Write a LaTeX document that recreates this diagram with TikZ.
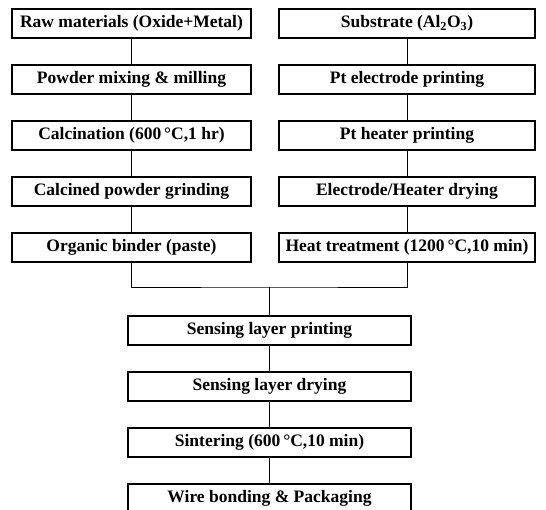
\documentclass[tikz,border=0pt]{standalone}
\usepackage{fontspec}
\setmainfont{Liberation Serif}
\usepackage{tikz}
\usetikzlibrary{positioning, calc}
\newcommand{\degC}{\,°C}
\tikzset{
  stagebox/.style={draw, line width=1.3pt, minimum height=29pt, inner sep=0pt,
    font=\bfseries\fontsize{17.5}{19}\selectfont},
  powder/.style={stagebox, minimum width=239pt},
  substr/.style={stagebox, minimum width=256pt},
  sensor/.style={stagebox, minimum width=283pt},
  link/.style={line width=0.9pt}
}

\begin{document}
\begin{tikzpicture}[x=1pt, y=1pt]
  \useasboundingbox (0,0) rectangle (546,509);

  % powder / paste route (left)
  \node[powder] (rawmat) at (131.5,485.5) {Raw materials (Oxide+Metal)};
  \node[powder] (mixing) at (131.5,429.5) {Powder mixing \& milling};
  \node[powder] (calcin) at (131.5,373.5) {Calcination (600\degC,1 hr)};
  \node[powder] (grind)  at (131.5,317.5) {Calcined powder grinding};
  \node[powder] (binder) at (131.5,261.5) {Organic binder (paste)};

  % substrate route (right)
  \node[substr] (substrate) at (407,485.5) {Substrate (Al\textsubscript{2}O\textsubscript{3})};
  \node[substr] (ptelec)    at (407,429.5) {Pt electrode printing};
  \node[substr] (pthtr)     at (407,373.5) {Pt heater printing};
  \node[substr] (eldry)     at (407,317.5) {Electrode/Heater drying};
  \node[substr] (heattr)    at (407,261.5) {Heat treatment (1200\degC,10 min)};

  % sensing layer + packaging (center)
  \node[sensor] (sprint)  at (269.5,178.5) {Sensing layer printing};
  \node[sensor] (sdry)    at (269.5,122.5) {Sensing layer drying};
  \node[sensor] (sinter)  at (269.5,66.5)  {Sintering (600\degC,10 min)};
  \node[sensor] (bonding) at (269.5,10.5)  {Wire bonding \& Packaging};

  \foreach \a/\b in {rawmat/mixing, mixing/calcin, calcin/grind, grind/binder,
                     substrate/ptelec, ptelec/pthtr, pthtr/eldry, eldry/heattr,
                     sprint/sdry, sdry/sinter, sinter/bonding} {
    \draw[link] (\a) -- (\b);
  }

  % both routes join
  \coordinate (merge) at (269.5,222);
  \draw[link] (binder.south) |- (merge) -| (heattr.south);
  \draw[link] (merge) -- (sprint);
\end{tikzpicture}
\end{document}
